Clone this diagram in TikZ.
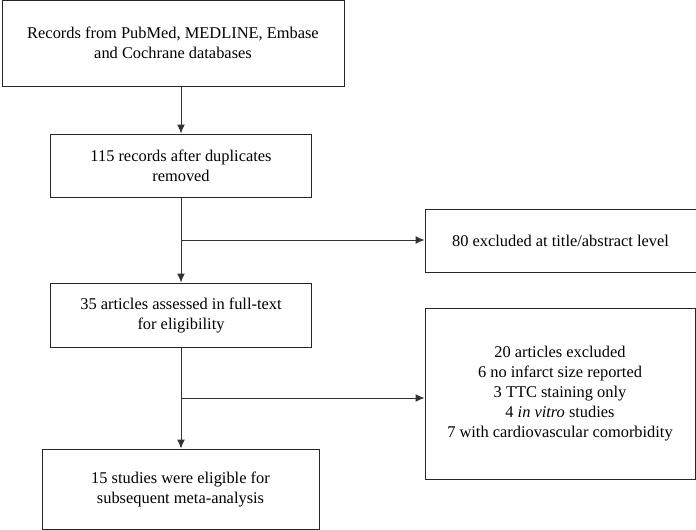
\documentclass[tikz,border=0pt]{standalone}
\usepackage{fontspec}
\setmainfont{Liberation Serif}
\usetikzlibrary{arrows.meta}
\begin{document}
\begin{tikzpicture}
  [
  x=1pt,y=-1pt,
  box/.style={rectangle,draw=black!85,line width=1pt,align=center,inner sep=0pt,
    font=\fontsize{16.4}{20}\selectfont},
  link/.style={draw=black!80,line width=1pt,-{Latex[length=9pt,width=8pt]}}
  ]
  \useasboundingbox (0,0) rectangle (696,530);

  \node (records) at (173,43) [box,minimum width=342,minimum height=86]
    {Records from PubMed, MEDLINE, Embase\\and Cochrane databases};
  \node (dedup) at (181,165.5) [box,minimum width=261,minimum height=63]
    {115 records after duplicates\\removed};
  \node (title) at (560.5,240.5) [box,minimum width=271,minimum height=63]
    {80 excluded at title/abstract level};
  \node (full) at (181,315) [box,minimum width=261,minimum height=64]
    {35 articles assessed in full-text\\for eligibility};
  \node (excl) at (560,393.5) [box,minimum width=270,minimum height=171]
    {20 articles excluded\\6 no infarct size reported\\3 TTC staining only\\
     4 \textit{in vitro} studies\\7 with cardiovascular comorbidity};
  \node (final) at (180.5,489) [box,minimum width=277,minimum height=80]
    {15 studies were eligible for\\subsequent meta-analysis};

  \coordinate (b1) at (181,240);
  \coordinate (b2) at (181,398);

  \draw [link] (dedup.north |- records.south) to (dedup.north);
  \draw [link] (dedup) to (full);
  \draw [link] (b1) to (b1 -| title.west);
  \draw [link] (full) to (full |- final.north);
  \draw [link] (b2) to (b2 -| excl.west);
\end{tikzpicture}
\end{document}
